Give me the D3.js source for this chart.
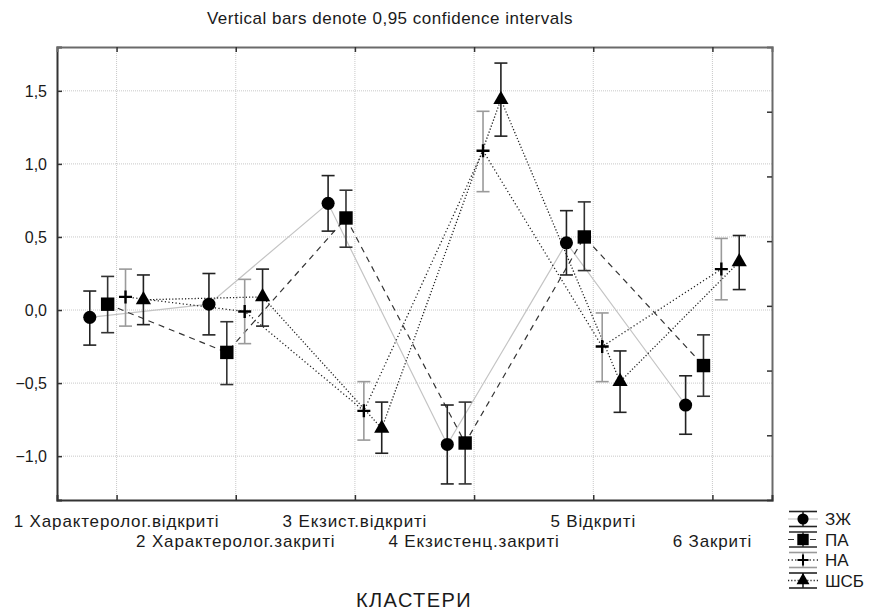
<!DOCTYPE html>
<html lang="uk">
<head>
<meta charset="UTF-8">
<title>Vertical bars denote 0,95 confidence intervals</title>
<script src="https://d3js.org/d3.v7.min.js"></script>
<style>
  body { margin: 0; background: #fff; font-family: "Liberation Sans", Arial, sans-serif; }
  text { fill: #1a1a1a; }
</style>
</head>
<body>
<div id="chart"></div>
<script>
// categories along x
var categories = ['1 Характеролог.відкриті', '2 Характеролог.закриті', '3 Екзист.відкриті',
                  '4 Екзистенц.закриті', '5 Відкриті', '6 Закриті'];
var seriesNames = ['ЗЖ', 'ПА', 'НА', 'ШСБ'];

// means per series
var zjMean   = [-0.05, 0.04, 0.73, -0.92, 0.46, -0.65];
var paMean   = [0.04, -0.29, 0.63, -0.91, 0.50, -0.38];
var naMean   = [0.09, -0.01, -0.69, 1.09, -0.25, 0.28];
var shsbMean = [0.07, 0.09, -0.81, 1.44, -0.49, 0.33];

// 0,95 confidence limits
var zjLow    = [-0.24, -0.17, 0.54, -1.19, 0.24, -0.85];
var zjHigh   = [0.13, 0.25, 0.92, -0.65, 0.68, -0.45];
var paLow    = [-0.155, -0.51, 0.43, -1.19, 0.27, -0.59];
var paHigh   = [0.23, -0.08, 0.82, -0.63, 0.74, -0.17];
var naLow    = [-0.11, -0.23, -0.89, 0.81, -0.49, 0.07];
var naHigh   = [0.28, 0.21, -0.49, 1.36, -0.02, 0.49];
var shsbLow  = [-0.10, -0.11, -0.98, 1.19, -0.70, 0.14];
var shsbHigh = [0.24, 0.28, -0.63, 1.69, -0.28, 0.51];

var yTicks = [-1.0, -0.5, 0.0, 0.5, 1.0, 1.5];
var rightTicks = [1, 2, 3, 4, 5, 6];

var w = 869, h = 610;
var m = {top: 47, left: 57, bottom: 110, right: 97};

var svg = d3.select('#chart').append('svg')
    .attr('width', w).attr('height', h);

var x = d3.scaleLinear().domain([0.5, 6.5]).range([m.left, w - m.right]);
var y = d3.scaleLinear().domain([-1.3, 1.8]).range([h - m.bottom, m.top]);
var yRight = d3.scaleLinear().domain([0, 7]).range([h - m.bottom, m.top]);

var series = [
  {name: 'ЗЖ', mean: zjMean, lo: zjLow, hi: zjHigh, off: -0.225, shape: 'circle',
   line: '#c4c4c4', dash: null, lw: 1.2, bar: '#222'},
  {name: 'ПА', mean: paMean, lo: paLow, hi: paHigh, off: -0.075, shape: 'square',
   line: '#333', dash: '6,5', lw: 1.2, bar: '#333'},
  {name: 'НА', mean: naMean, lo: naLow, hi: naHigh, off: 0.075, shape: 'plus',
   line: '#222', dash: '1.2,2.4', lw: 1.3, bar: '#9a9a9a'},
  {name: 'ШСБ', mean: shsbMean, lo: shsbLow, hi: shsbHigh, off: 0.225, shape: 'triangle',
   line: '#222', dash: '1.2,2', lw: 1.3, bar: '#222'}
];

// grid
var grid = svg.append('g');
grid.selectAll('.hg').data(yTicks).enter().append('line')
    .attr('x1', m.left).attr('x2', w - m.right)
    .attr('y1', function(d){ return y(d); }).attr('y2', function(d){ return y(d); })
    .attr('stroke', '#c8c8c8').attr('stroke-dasharray', '1,1');
grid.selectAll('.vg').data(d3.range(1, 7)).enter().append('line')
    .attr('y1', m.top).attr('y2', h - m.bottom)
    .attr('x1', function(d){ return x(d); }).attr('x2', function(d){ return x(d); })
    .attr('stroke', '#c8c8c8').attr('stroke-dasharray', '1,1');

// connecting lines
var lineGen = d3.line()
    .x(function(d){ return x(d.c + d.off); })
    .y(function(d){ return y(d.v); });

series.forEach(function(s){
  var pts = s.mean.map(function(v, i){ return {c: i + 1, off: s.off, v: v}; });
  svg.append('path')
     .datum(pts)
     .attr('d', lineGen)
     .attr('fill', 'none')
     .attr('stroke', s.line)
     .attr('stroke-width', s.lw)
     .attr('stroke-dasharray', s.dash);
});

function drawMarker(g, shape, cx, cy, scale) {
  scale = scale || 1;
  if (shape === 'plus') {
    var a = 6.5 * scale;
    g.append('path')
     .attr('d', 'M' + (cx - a) + ',' + cy + 'H' + (cx + a) + 'M' + cx + ',' + (cy - a) + 'V' + (cy + a))
     .attr('stroke', '#000').attr('stroke-width', 2.4 * scale).attr('fill', 'none');
    return;
  }
  var type = shape === 'circle' ? d3.symbolCircle : shape === 'square' ? d3.symbolSquare : d3.symbolTriangle;
  var size = shape === 'circle' ? 135 : shape === 'square' ? 180 : 100;
  g.append('path')
   .attr('d', d3.symbol().type(type).size(size * scale * scale))
   .attr('transform', 'translate(' + cx + ',' + cy + ')')
   .attr('fill', '#000');
}

// error bars and markers
series.forEach(function(s){
  var g = svg.append('g');
  s.mean.forEach(function(v, i){
    var cx = x(i + 1 + s.off);
    var cap = 6.5;
    g.append('line').attr('x1', cx).attr('x2', cx)
     .attr('y1', y(s.lo[i])).attr('y2', y(s.hi[i]))
     .attr('stroke', s.bar).attr('stroke-width', 1.6);
    [s.lo[i], s.hi[i]].forEach(function(e){
      g.append('line').attr('x1', cx - cap).attr('x2', cx + cap)
       .attr('y1', y(e)).attr('y2', y(e))
       .attr('stroke', s.bar).attr('stroke-width', 1.6);
    });
    drawMarker(g, s.shape, cx, y(v));
  });
});

// axes
var axL = svg.append('g').attr('transform', 'translate(' + m.left + ',0)')
    .call(d3.axisRight(y).tickValues(yTicks).tickSize(5).tickFormat(''));
var axR = svg.append('g').attr('transform', 'translate(' + (w - m.right) + ',0)')
    .call(d3.axisLeft(yRight).tickValues(rightTicks).tickSize(5).tickFormat(''));
var axB = svg.append('g').attr('transform', 'translate(0,' + (h - m.bottom) + ')')
    .call(d3.axisTop(x).tickValues(d3.range(1, 7)).tickSize(5).tickFormat(''));
var axT = svg.append('g').attr('transform', 'translate(0,' + m.top + ')')
    .call(d3.axisBottom(x).tickValues(d3.range(1, 7)).tickSize(5).tickFormat(''));
[axL, axB].forEach(function(a){
  a.select('.domain').attr('stroke', '#333').attr('stroke-width', 2);
  a.selectAll('.tick line').attr('stroke', '#333').attr('stroke-width', 1.5);
});
[axR, axT].forEach(function(a){
  a.select('.domain').attr('stroke', '#6a6a6a').attr('stroke-width', 2);
  a.selectAll('.tick line').attr('stroke', '#333').attr('stroke-width', 1.5);
});

// y labels
svg.append('g').selectAll('text').data(yTicks).enter().append('text')
   .attr('x', m.left - 10)
   .attr('y', function(d){ return y(d) + 6; })
   .attr('text-anchor', 'end')
   .style('font-size', '16px')
   .text(function(d){ return d3.format('.1f')(d).replace('.', ','); });

// x labels, staggered in two rows
svg.append('g').selectAll('text').data(categories).enter().append('text')
   .attr('x', function(d, i){ return x(i + 1); })
   .attr('y', function(d, i){ return i % 2 === 0 ? 527 : 547; })
   .attr('text-anchor', 'middle')
   .style('font-size', '17px')
   .style('letter-spacing', '0.85px')
   .text(function(d){ return d; });

// axis title
svg.append('text').attr('x', 414).attr('y', 607)
   .attr('text-anchor', 'middle').style('font-size', '20px')
   .style('letter-spacing', '1.4px').text('КЛАСТЕРИ');

// chart title
svg.append('text').attr('x', 390).attr('y', 24)
   .attr('text-anchor', 'middle').style('font-size', '17px')
   .style('letter-spacing', '0.5px')
   .text('Vertical bars denote 0,95 confidence intervals');

// legend
var legend = svg.append('g').attr('id', 'legend');
series.forEach(function(s, i){
  var ly = 519 + i * 20.5, lx = 803;
  var g = legend.append('g');
  g.append('line').attr('x1', lx - 15).attr('x2', lx + 15).attr('y1', ly).attr('y2', ly)
   .attr('stroke', s.line).attr('stroke-width', s.lw).attr('stroke-dasharray', s.dash);
  [ly - 7.5, ly + 7.5].forEach(function(e){
    g.append('line').attr('x1', lx - 14).attr('x2', lx + 14).attr('y1', e).attr('y2', e)
     .attr('stroke', s.bar).attr('stroke-width', 1.6);
  });
  g.append('line').attr('x1', lx).attr('x2', lx).attr('y1', ly - 7.5).attr('y2', ly + 7.5)
   .attr('stroke', s.bar).attr('stroke-width', 1.6);
  drawMarker(g, s.shape, lx, ly, 0.85);
  g.append('text').attr('x', lx + 22).attr('y', ly + 6)
   .style('font-size', '17px').text(s.name);
});
</script>
</body>
</html>
